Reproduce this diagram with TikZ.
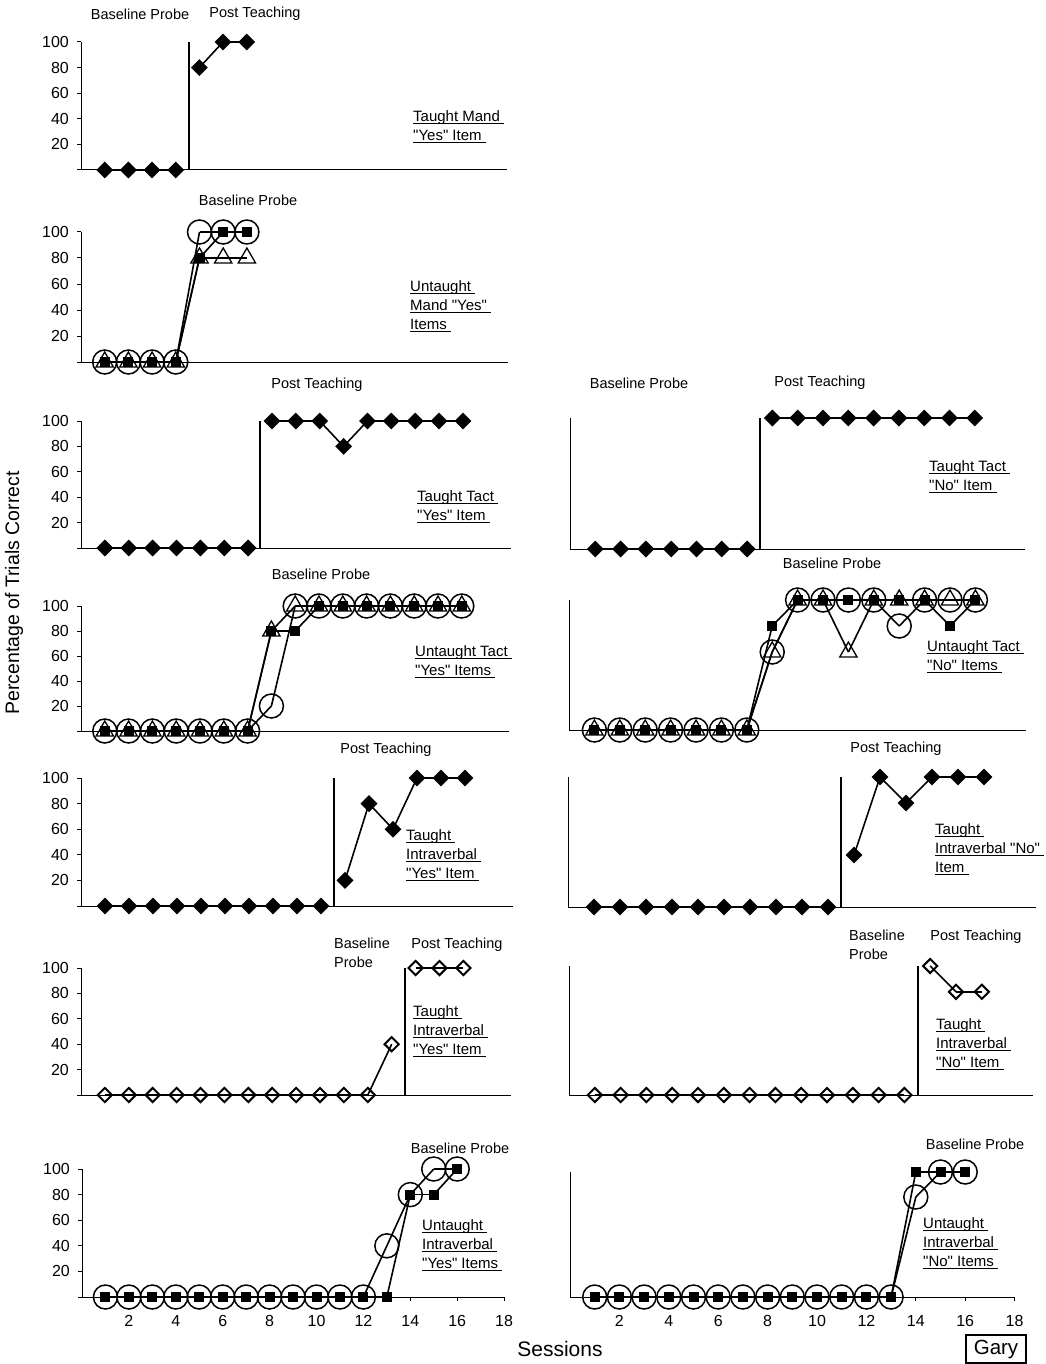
\documentclass[tikz,border=0pt]{standalone}
\usepackage{fontspec}
\setmainfont{Liberation Sans}
\usetikzlibrary{shapes.geometric,backgrounds}

\tikzset{
  dmd/.style={diamond,fill=black,inner sep=0pt,minimum size=17pt},
  odmd/.style={diamond,draw=black,line width=2pt,inner sep=0pt,minimum size=15pt},
  circ/.style={circle,draw=black,line width=1.5pt,inner sep=0pt,minimum size=24pt},
  sqr/.style={rectangle,fill=black,inner sep=0pt,minimum size=10pt},
  tri/.style={regular polygon,regular polygon sides=3,draw=black,line width=1.3pt,inner sep=0pt,minimum size=20pt},
  dataline/.style={line width=1.6pt},
  axisline/.style={line width=1pt},
  phase/.style={line width=1.6pt},
  phaselabel/.style={font=\fontsize{14.5}{19}\selectfont,inner sep=0pt},
  itemlabel/.style={font=\fontsize{15}{19}\selectfont,align=left,anchor=north west,inner sep=0pt},
  ticklabel/.style={font=\fontsize{16}{16}\selectfont,inner sep=0pt},
}

% straight quote and underlined legend line
\newcommand{\dq}{\textquotedbl}
\newcommand{\ulit}[1]{\setbox0=\hbox{#1\ }\rlap{\rule[-3pt]{\wd0}{1.1pt}}\box0}

% one data series: name, marker, session/value list
\newcommand{\series}[3]{%
  \foreach \s/\v in {#3} \node[#2] (#1\s) at (\s,\v) {};
  \begin{pgfonlayer}{background}
    \foreach \s/\v [remember=\s as \p (initially 0)] in {#3}{
      \ifnum\p>0 \draw[dataline] (#1\p.center) -- (#1\s.center);\fi
    }
  \end{pgfonlayer}
}

\newcommand{\leftaxis}{%
  \draw[axisline] (0,100) -- (0,0) -- (18,0);
  \draw[axisline] (0,0) -- +(-4pt,0);
  \foreach \v in {20,40,60,80,100}{
    \draw[axisline] (0,\v) -- +(-4pt,0);
    \node[ticklabel,anchor=east] (yl\v) at ([xshift=-12pt]0,\v) {\v};
  }
}
\newcommand{\rightaxis}{\draw[axisline] (0,100) -- (0,0) -- (18,0);}
\newcommand{\sessionticks}{%
  \foreach \t in {2,4,...,18}{
    \draw[axisline] (\t,0) -- +(0,-4pt);
    \node[ticklabel] (xt\t) at ([yshift=-24pt]\t,0) {\t};
  }
}

\begin{document}
\begin{tikzpicture}[x=1pt,y=-1pt]
\useasboundingbox (0,0) rectangle (1045,1364);

% ---- left column ----
\begin{scope}[shift={(81pt,-170pt)},x=23.67pt,y=1.28pt]
  \leftaxis
  \draw[phase] (4.55,100) -- (4.55,0);
  \series{mandb}{dmd}{1/0,2/0,3/0,4/0}
  \series{mandp}{dmd}{5/80,6/100,7/100}
\end{scope}
\node[phaselabel] (mandbase) at (140,14) {Baseline Probe};
\node[phaselabel] (mandpost) at (255,14) {Post Teaching};
\node[itemlabel] (mandlbl) at (413,110) {\ulit{Taught Mand}\\\ulit{\dq Yes\dq\ Item}};

\begin{scope}[shift={(81pt,-362pt)},x=23.7pt,y=1.3pt]
  \leftaxis
  \series{umandt}{tri}{1/0,2/0,3/0,4/0,5/80,6/80,7/80}
  \series{umands}{sqr}{1/0,2/0,3/0,4/0,5/80,6/100,7/100}
  \series{umandc}{circ}{1/0,2/0,3/0,4/0,5/100,6/100,7/100}
\end{scope}
\node[phaselabel] (umandbase) at (248,200) {Baseline Probe};
\node[itemlabel] (umandlbl) at (410,280) {\ulit{Untaught}\\\ulit{Mand \dq Yes\dq}\\\ulit{Items}};

\begin{scope}[shift={(81pt,-548pt)},x=23.87pt,y=1.27pt]
  \leftaxis
  \draw[phase] (7.5,100) -- (7.5,0);
  \series{tactb}{dmd}{1/0,2/0,3/0,4/0,5/0,6/0,7/0}
  \series{tactp}{dmd}{8/100,9/100,10/100,11/80,12/100,13/100,14/100,15/100,16/100}
\end{scope}
\node[phaselabel] (tactpost) at (317,385) {Post Teaching};
\node[itemlabel] (tactlbl) at (417,490) {\ulit{Taught Tact}\\\ulit{\dq Yes\dq\ Item}};

\begin{scope}[shift={(81pt,-731pt)},x=23.8pt,y=1.25pt]
  \leftaxis
  \series{utactt}{tri}{1/0,2/0,3/0,4/0,5/0,6/0,7/0,8/80,9/100,10/100,11/100,12/100,13/100,14/100,15/100,16/100}
  \series{utacts}{sqr}{1/0,2/0,3/0,4/0,5/0,6/0,7/0,8/80,9/80,10/100,11/100,12/100,13/100,14/100,15/100,16/100}
  \series{utactc}{circ}{1/0,2/0,3/0,4/0,5/0,6/0,7/0,8/20,9/100,10/100,11/100,12/100,13/100,14/100,15/100,16/100}
\end{scope}
\node[phaselabel] (utactbase) at (321,574) {Baseline Probe};
\node[itemlabel] (utactlbl) at (415,645) {\ulit{Untaught Tact}\\\ulit{\dq Yes\dq\ Items}};

\begin{scope}[shift={(81pt,-906pt)},x=24pt,y=1.28pt]
  \leftaxis
  \draw[phase] (10.54,100) -- (10.54,0);
  \series{ivbb}{dmd}{1/0,2/0,3/0,4/0,5/0,6/0,7/0,8/0,9/0,10/0}
  \series{ivbp}{dmd}{11/20,12/80,13/60,14/100,15/100,16/100}
\end{scope}
\node[phaselabel] (ivbpost) at (386,750) {Post Teaching};
\node[itemlabel] (ivblbl) at (406,829) {\ulit{Taught}\\\ulit{Intraverbal}\\\ulit{\dq Yes\dq\ Item}};

\begin{scope}[shift={(81pt,-1095pt)},x=23.9pt,y=1.27pt]
  \leftaxis
  \draw[phase] (13.56,100) -- (13.56,0);
  \series{oivbb}{odmd}{1/0,2/0,3/0,4/0,5/0,6/0,7/0,8/0,9/0,10/0,11/0,12/0,13/40}
  \series{oivbp}{odmd}{14/100,15/100,16/100}
\end{scope}
\node[itemlabel,font=\fontsize{14.5}{19}\selectfont] (oivbbase) at (334,938) {Baseline\\Probe};
\node[phaselabel] (oivbpost) at (457,945) {Post Teaching};
\node[itemlabel] (oivblbl) at (413,1005) {\ulit{Taught}\\\ulit{Intraverbal}\\\ulit{\dq Yes\dq\ Item}};

\begin{scope}[shift={(82pt,-1297pt)},x=23.45pt,y=1.28pt]
  \leftaxis
  \sessionticks
  \series{uivbs}{sqr}{1/0,2/0,3/0,4/0,5/0,6/0,7/0,8/0,9/0,10/0,11/0,12/0,13/0,14/80,15/80,16/100}
  \series{uivbc}{circ}{1/0,2/0,3/0,4/0,5/0,6/0,7/0,8/0,9/0,10/0,11/0,12/0,13/40,14/80,15/100,16/100}
\end{scope}
\node[phaselabel] (uivbbase) at (460,1148) {Baseline Probe};
\node[itemlabel] (uivblbl) at (422,1219) {\ulit{Untaught}\\\ulit{Intraverbal}\\\ulit{\dq Yes\dq\ Items}};

% ---- right column ----
\begin{scope}[shift={(570pt,-549pt)},x=25.3pt,y=1.31pt]
  \rightaxis
  \draw[phase] (7.5,100) -- (7.5,0);
  \series{tactnob}{dmd}{1/0,2/0,3/0,4/0,5/0,6/0,7/0}
  \series{tactnop}{dmd}{8/100,9/100,10/100,11/100,12/100,13/100,14/100,15/100,16/100}
\end{scope}
\node[phaselabel] (tactnobase) at (639,383) {Baseline Probe};
\node[phaselabel] (tactnopost) at (820,383) {Post Teaching};
\node[itemlabel] (tactnolbl) at (929,460) {\ulit{Taught Tact}\\\ulit{\dq No\dq\ Item}};

\begin{scope}[shift={(569pt,-730pt)},x=25.4pt,y=1.3pt]
  \rightaxis
  \series{utactnot}{tri}{1/0,2/0,3/0,4/0,5/0,6/0,7/0,8/60,9/100,10/100,11/60,12/100,13/100,14/100,15/100,16/100}
  \series{utactnos}{sqr}{1/0,2/0,3/0,4/0,5/0,6/0,7/0,8/80,9/100,10/100,11/100,12/100,13/100,14/100,15/80,16/100}
  \series{utactnoc}{circ}{1/0,2/0,3/0,4/0,5/0,6/0,7/0,8/60,9/100,10/100,11/100,12/100,13/80,14/100,15/100,16/100}
\end{scope}
\node[phaselabel] (utactnobase) at (832,563) {Baseline Probe};
\node[itemlabel] (utactnolbl) at (927,640) {\ulit{Untaught Tact}\\\ulit{\dq No\dq\ Items}};

\begin{scope}[shift={(568pt,-907pt)},x=26pt,y=1.3pt]
  \rightaxis
  \draw[phase] (10.5,100) -- (10.5,0);
  \series{ivbnob}{dmd}{1/0,2/0,3/0,4/0,5/0,6/0,7/0,8/0,9/0,10/0}
  \series{ivbnop}{dmd}{11/40,12/100,13/80,14/100,15/100,16/100}
\end{scope}
\node[phaselabel] (ivbnopost) at (896,749) {Post Teaching};
\node[itemlabel] (ivbnolbl) at (935,823) {\ulit{Taught}\\\ulit{Intraverbal \dq No\dq}\\\ulit{Item}};

\begin{scope}[shift={(569pt,-1095pt)},x=25.8pt,y=1.29pt]
  \rightaxis
  \draw[phase] (13.53,100) -- (13.53,0);
  \series{oivbnob}{odmd}{1/0,2/0,3/0,4/0,5/0,6/0,7/0,8/0,9/0,10/0,11/0,12/0,13/0}
  \series{oivbnop}{odmd}{14/100,15/80,16/80}
\end{scope}
\node[itemlabel,font=\fontsize{14.5}{19}\selectfont] (oivbnobase) at (849,930) {Baseline\\Probe};
\node[phaselabel] (oivbnopost) at (976,937) {Post Teaching};
\node[itemlabel] (oivbnolbl) at (936,1018) {\ulit{Taught}\\\ulit{Intraverbal}\\\ulit{\dq No\dq\ Item}};

\begin{scope}[shift={(570pt,-1297pt)},x=24.7pt,y=1.25pt]
  \rightaxis
  \sessionticks
  \series{uivbnos}{sqr}{1/0,2/0,3/0,4/0,5/0,6/0,7/0,8/0,9/0,10/0,11/0,12/0,13/0,14/100,15/100,16/100}
  \series{uivbnoc}{circ}{1/0,2/0,3/0,4/0,5/0,6/0,7/0,8/0,9/0,10/0,11/0,12/0,13/0,14/80,15/100,16/100}
\end{scope}
\node[phaselabel] (uivbnobase) at (975,1144) {Baseline Probe};
\node[itemlabel] (uivbnolbl) at (923,1217) {\ulit{Untaught}\\\ulit{Intraverbal}\\\ulit{\dq No\dq\ Items}};

% ---- axis titles ----
\node[rotate=90,font=\fontsize{19.5}{20}\selectfont] (ytitle) at (14,593) {Percentage of Trials Correct};
\node[font=\fontsize{21}{22}\selectfont] (xtitle) at (560,1349) {Sessions};
\node[draw,line width=1.2pt,font=\fontsize{20.5}{21}\selectfont,minimum width=60pt,minimum height=28pt,inner sep=0pt] (gary) at (996,1349) {Gary};
\end{tikzpicture}
\end{document}
